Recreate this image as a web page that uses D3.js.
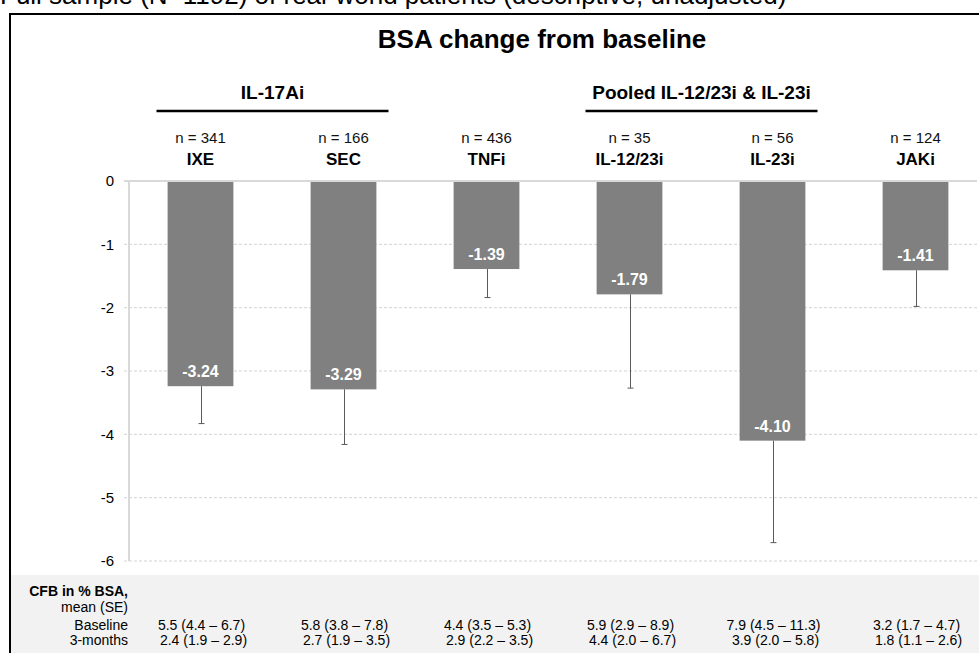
<!DOCTYPE html>
<html>
<head>
<meta charset="utf-8">
<script src="https://cdn.jsdelivr.net/npm/d3@7"></script>
<style>
  html, body { margin: 0; padding: 0; background: #fff; }
  svg { display: block; font-family: "Liberation Sans", Arial, sans-serif; }
</style>
</head>
<body>
<svg id="chart" width="979" height="653"></svg>
<script>
// ---- data ----
const categories = ["IXE", "SEC", "TNFi", "IL-12/23i", "IL-23i", "JAKi"];
const nValues = [341, 166, 436, 35, 56, 124];
const meanCFB = [-3.24, -3.29, -1.39, -1.79, -4.10, -1.41];
const seValues = [0.59, 0.87, 0.45, 1.48, 1.61, 0.57];
const baselineText = ["5.5 (4.4 – 6.7)", "5.8 (3.8 – 7.8)", "4.4 (3.5 – 5.3)", "5.9 (2.9 – 8.9)", "7.9 (4.5 – 11.3)", "3.2 (1.7 – 4.7)"];
const month3Text = ["2.4 (1.9 – 2.9)", "2.7 (1.9 – 3.5)", "2.9 (2.2 – 3.5)", "4.4 (2.0 – 6.7)", "3.9 (2.0 – 5.8)", "1.8 (1.1 – 2.6)"];
const groupLabels = ["IL-17Ai", "Pooled IL-12/23i & IL-23i"];
const groupMembers = [["IXE", "SEC"], ["IL-12/23i", "IL-23i"]];
const yTicks = [0, -1, -2, -3, -4, -5, -6];
const rowLabels = ["mean (SE)", "Baseline", "3-months"];
const titleText = "BSA change from baseline";
const topText = "Full sample (N=1192) of real-world patients (descriptive, unadjusted)";
const tableHeader = "CFB in % BSA,";

// ---- layout ----
const svg = d3.select("#chart");
const x = d3.scaleBand().domain(categories).range([129, 987]).paddingInner(0.54).paddingOuter(0.27);
const y = d3.scaleLinear().domain([-6, 0]).range([561, 181]);
const cx = d => x(d) + x.bandwidth() / 2;
const gridRight = 977;

// top clipped text
svg.append("text").attr("x", 0).attr("y", 4).attr("font-size", 26).attr("fill", "#000").text(topText);

// table background
svg.append("rect").attr("x", 10).attr("y", 575).attr("width", 979).attr("height", 100).attr("fill", "#f2f2f2");

// frame
svg.append("rect").attr("x", 10).attr("y", 14).attr("width", 1100).attr("height", 800)
  .attr("fill", "none").attr("stroke", "#000").attr("stroke-width", 2);

// title
svg.append("text").attr("x", 542).attr("y", 48).attr("text-anchor", "middle")
  .attr("font-size", 26).attr("font-weight", "bold").attr("fill", "#000").text(titleText);

// group labels & underlines
groupLabels.forEach((g, i) => {
  const m = groupMembers[i];
  const c1 = cx(m[0]), c2 = cx(m[m.length - 1]);
  svg.append("text").attr("x", (c1 + c2) / 2 + 0.5).attr("y", 98.5).attr("text-anchor", "middle")
    .attr("font-size", 19).attr("font-weight", "bold").attr("fill", "#000").text(g);
  svg.append("line").attr("x1", c1 - 44).attr("x2", c2 + 45).attr("y1", 111).attr("y2", 111)
    .attr("stroke", "#000").attr("stroke-width", 2.5);
});

// n labels and category labels
const head = svg.append("g");
head.selectAll("text.n").data(categories).join("text").attr("class", "n")
  .attr("x", d => cx(d)).attr("y", 143).attr("text-anchor", "middle")
  .attr("font-size", 15).attr("fill", "#111").text((d, i) => "n = " + nValues[i]);
head.selectAll("text.cat").data(categories).join("text").attr("class", "cat")
  .attr("x", d => cx(d)).attr("y", 165).attr("text-anchor", "middle")
  .attr("font-size", 17).attr("font-weight", "bold").attr("fill", "#000").text(d => d);

// gridlines
svg.append("g").selectAll("line").data(yTicks.filter(t => t !== 0)).join("line")
  .attr("x1", 124).attr("x2", gridRight).attr("y1", d => y(d)).attr("y2", d => y(d))
  .attr("stroke", "#d3d3d3").attr("stroke-width", 1).attr("stroke-dasharray", "3,2");

// y axis
const yAxis = d3.axisLeft(y).tickValues(yTicks).tickSize(0).tickPadding(15).tickFormat(d => String(d));
const ga = svg.append("g").attr("transform", "translate(129,0)").call(yAxis);
ga.select(".domain").remove();
ga.selectAll("text").attr("font-size", 15).attr("fill", "#000").attr("font-family", "'Liberation Sans', Arial, sans-serif");
svg.append("line").attr("x1", 129).attr("x2", 129).attr("y1", y(0)).attr("y2", y(-6))
  .attr("stroke", "#d9d9d9").attr("stroke-width", 2);

// bars
svg.append("g").selectAll("rect").data(categories).join("rect")
  .attr("x", d => x(d)).attr("width", x.bandwidth())
  .attr("y", y(0)).attr("height", (d, i) => y(meanCFB[i]) - y(0))
  .attr("fill", "#808080");

// zero line
svg.append("line").attr("x1", 124).attr("x2", gridRight).attr("y1", y(0)).attr("y2", y(0))
  .attr("stroke", "#d9d9d9").attr("stroke-width", 2);

// error bars
const eb = svg.append("g").attr("stroke", "#5a5a5a").attr("stroke-width", 1);
categories.forEach((c, i) => {
  const xc = Math.round(cx(c)) + 0.5;
  const y1 = y(meanCFB[i]), y2 = y(meanCFB[i] - seValues[i]);
  eb.append("line").attr("x1", xc).attr("x2", xc).attr("y1", y1).attr("y2", y2);
  eb.append("line").attr("x1", xc - 3).attr("x2", xc + 3).attr("y1", y2).attr("y2", y2);
});

// value labels
svg.append("g").selectAll("text").data(categories).join("text")
  .attr("x", d => cx(d)).attr("y", (d, i) => y(meanCFB[i]) - 9).attr("text-anchor", "middle")
  .attr("font-size", 16).attr("font-weight", "bold").attr("fill", "#fff")
  .text((d, i) => meanCFB[i].toFixed(2));

// table text
svg.append("text").attr("x", 128).attr("y", 596).attr("text-anchor", "end")
  .attr("font-size", 14).attr("font-weight", "bold").attr("fill", "#000").text(tableHeader);
const rowY = [611.5, 630, 644.5];
rowLabels.forEach((r, i) => {
  svg.append("text").attr("x", 128).attr("y", rowY[i]).attr("text-anchor", "end")
    .attr("font-size", 14).attr("fill", "#000").text(r);
});
svg.append("g").selectAll("text").data(categories).join("text")
  .attr("x", d => cx(d) + 1).attr("y", rowY[1]).attr("text-anchor", "middle")
  .attr("font-size", 14).attr("fill", "#000").text((d, i) => baselineText[i]);
svg.append("g").selectAll("text").data(categories).join("text")
  .attr("x", d => cx(d) + 3).attr("y", rowY[2]).attr("text-anchor", "middle")
  .attr("font-size", 14).attr("fill", "#000").text((d, i) => month3Text[i]);
</script>
</body>
</html>
